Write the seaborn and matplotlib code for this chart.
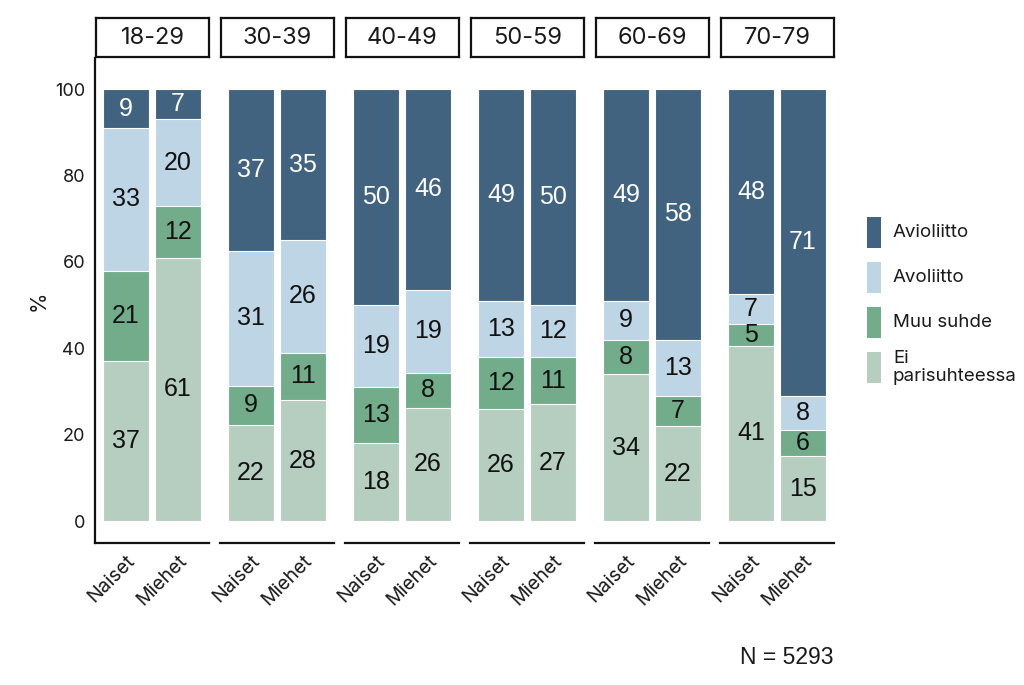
import matplotlib
matplotlib.use('Agg')
import matplotlib.pyplot as plt
from matplotlib.patches import Rectangle
import numpy as np
import pandas as pd
import seaborn as sns

sns.set_style('white')
plt.rcParams['font.family'] = ['Inter', 'DejaVu Sans']

# data, per age group: Naiset then Miehet
ikaryhmat = ['18-29', '30-39', '40-49', '50-59', '60-69', '70-79']
sukupuolet = ['Naiset', 'Miehet']
luokat = ['Ei parisuhteessa', 'Muu suhde', 'Avoliitto', 'Avioliitto']  # bottom -> top
ei_parisuhteessa = [37, 61, 22, 28, 18, 26, 26, 27, 34, 22, 41, 15]
muu_suhde = [21, 12, 9, 11, 13, 8, 12, 11, 8, 7, 5, 6]
avoliitto = [33, 20, 31, 26, 19, 19, 13, 12, 9, 13, 7, 8]
avioliitto = [9, 7, 37, 35, 50, 46, 49, 50, 49, 58, 48, 71]
otos = 5293

varit = {
    'Avioliitto': '#41637f',
    'Avoliitto': '#bdd5e5',
    'Muu suhde': '#72ac8b',
    'Ei parisuhteessa': '#b5cebf',
}
legend_labels = {'Ei parisuhteessa': 'Ei\nparisuhteessa'}

df = pd.DataFrame({
    'ika': np.repeat(ikaryhmat, 2),
    'sukupuoli': sukupuolet * len(ikaryhmat),
    'Ei parisuhteessa': ei_parisuhteessa,
    'Muu suhde': muu_suhde,
    'Avoliitto': avoliitto,
    'Avioliitto': avioliitto,
})
# rounded values don't always sum to 100 -> scale bars to full height
df['summa'] = df[luokat].sum(axis=1)
alku = 0
for luokka in luokat:
    df['ala_' + luokka] = alku / df['summa'] * 100
    alku = alku + df[luokka]
    df['yla_' + luokka] = alku / df['summa'] * 100

W, H = 1024, 685
fig = plt.figure(figsize=(W / 100, H / 100), dpi=100)

def fx(px):
    return px / W

def fy(px):
    return 1 - px / H

panel_x0, panel_w, panel_step = 95, 114, 125
panel_top, panel_bottom = 58, 543
strip_top, strip_bottom = 18, 57

for i, ika in enumerate(ikaryhmat):
    x0 = panel_x0 + i * panel_step
    ax = fig.add_axes([fx(x0), fy(panel_bottom), panel_w / W, (panel_bottom - panel_top) / H])
    sub = df[df['ika'] == ika]

    # layered bars, tallest first
    for luokka in reversed(luokat):
        sns.barplot(data=sub, x='sukupuoli', y='yla_' + luokka, order=sukupuolet,
                    color=varit[luokka], saturation=1, width=0.9, errorbar=None,
                    edgecolor='white', linewidth=0.8, ax=ax)

    for j, (_, rivi) in enumerate(sub.iterrows()):
        for luokka in luokat:
            keski = (rivi['ala_' + luokka] + rivi['yla_' + luokka]) / 2
            ax.text(j, keski, str(rivi[luokka]), ha='center', va='center',
                    fontsize=18, family='Liberation Sans',
                    color='white' if luokka == 'Avioliitto' else '#111111')

    ax.set_xlim(-0.6, 1.6)
    ax.set_ylim(-5.09, 107.2)
    ax.set_xlabel('')
    ax.set_ylabel('')
    ax.tick_params(length=0)
    ax.set_xticks(range(len(sukupuolet)))
    ax.set_xticklabels(sukupuolet, rotation=45, ha='right', va='top',
                       rotation_mode='anchor', fontsize=14, color='#1a1a1a')
    ax.tick_params(axis='x', pad=6)
    for s in ['top', 'right']:
        ax.spines[s].set_visible(False)
    ax.spines['bottom'].set_color('#111111')
    ax.spines['bottom'].set_linewidth(1.6)
    if i == 0:
        ax.set_yticks([0, 20, 40, 60, 80, 100])
        ax.set_yticklabels(['0', '20', '40', '60', '80', '100'], fontsize=13, color='#1a1a1a')
        ax.tick_params(axis='y', pad=7)
        ax.spines['left'].set_color('#111111')
        ax.spines['left'].set_linewidth(1.6)
        ax.set_ylabel('%', fontsize=15, labelpad=5, color='#1a1a1a')
    else:
        ax.set_yticks([])
        ax.spines['left'].set_visible(False)

    # facet strip
    sax = fig.add_axes([fx(x0 + 1), fy(strip_bottom), (panel_w - 1) / W, (strip_bottom - strip_top) / H])
    sax.set_xticks([])
    sax.set_yticks([])
    for s in sax.spines.values():
        s.set_visible(True)
        s.set_color('#111111')
        s.set_linewidth(1.6)
    sax.text(0.5, 0.48, ika, ha='center', va='center', fontsize=17, color='#1a1a1a',
             transform=sax.transAxes)

# legend: keys drawn as figure patches
key_tops = [217, 262, 307, 352]
for top, luokka in zip(key_tops, reversed(luokat)):
    fig.add_artist(Rectangle((fx(867), fy(top + 31)), 14 / W, 31 / H,
                             facecolor=varit[luokka], edgecolor='none',
                             transform=fig.transFigure))
    fig.text(fx(893), fy(top + 15.5), legend_labels.get(luokka, luokka),
             ha='left', va='center', fontsize=13.5, linespacing=1.15, color='#1a1a1a')

fig.text(fx(833), fy(658), f'N = {otos}', ha='right', va='center', fontsize=16.5,
         family='Liberation Sans', color='#1a1a1a')

fig.savefig('out.png', dpi=100)
